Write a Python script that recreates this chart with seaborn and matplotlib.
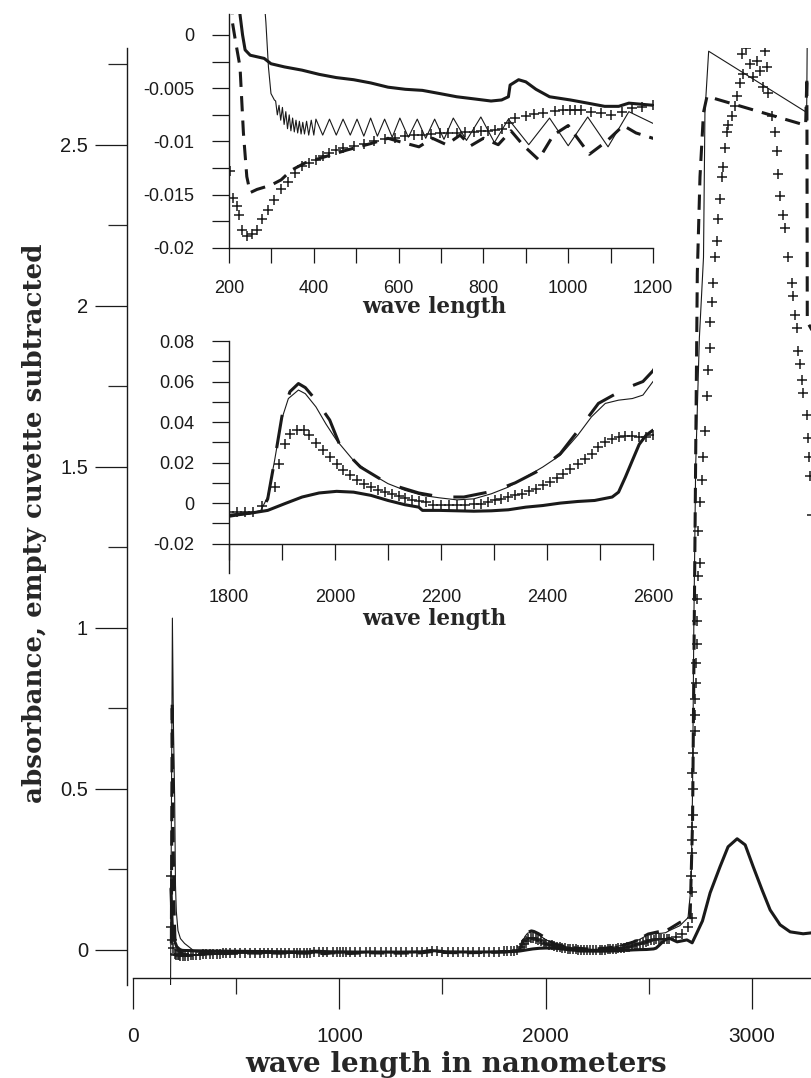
import matplotlib
matplotlib.use("Agg")
import matplotlib.pyplot as plt
import seaborn as sns

# ---------------- data (wavelength nm, absorbance) ----------------
# series A: bold solid line
a_wl = [184, 190, 200, 212, 222, 226, 232, 238, 250, 283, 299, 331, 372, 413, 453, 494, 534, 575, 616, 656,
        697, 737, 778, 818, 843, 859, 863, 883, 900, 924, 956, 1005, 1046, 1086, 1119, 1143, 1200, 1300, 1400,
        1440, 1470, 1520, 1600, 1700, 1800, 1840, 1873, 1905, 1938, 1970, 2003, 2035, 2068, 2100, 2132, 2158,
        2165, 2197, 2230, 2262, 2295, 2327, 2360, 2392, 2425, 2458, 2490, 2523, 2535, 2548, 2561, 2574, 2587,
        2600, 2637, 2685, 2710, 2733, 2760, 2797, 2845, 2884, 2928, 2967, 3006, 3049, 3088, 3136, 3185, 3248, 3290]
a_val = [0.19, 0.08, 0.03, 0.01, 0.004, 0.0019, 0.0, -0.0014, -0.0019, -0.0022, -0.0027, -0.0030, -0.0033,
         -0.0037, -0.0040, -0.0042, -0.0045, -0.0049, -0.0051, -0.0052, -0.0055, -0.0058, -0.0060, -0.0062,
         -0.0061, -0.0058, -0.0047, -0.0042, -0.0044, -0.0051, -0.0058, -0.0061, -0.0064, -0.0067, -0.0067,
         -0.0064, -0.0066, -0.0068, -0.0060, -0.002, -0.003, -0.006, -0.0065, -0.0065, -0.0060, -0.0050,
         -0.0036, -0.0003, 0.0030, 0.0050, 0.0058, 0.0054, 0.0038, 0.0013, -0.0008, -0.0020, -0.0036, -0.0036,
         -0.0038, -0.0040, -0.0038, -0.0033, -0.0020, -0.0012, 0.0000, 0.0008, 0.0013, 0.0030, 0.0054, 0.0129,
         0.0210, 0.0290, 0.0335, 0.0360, 0.025, 0.031, 0.022, 0.053, 0.09, 0.177, 0.258, 0.320, 0.345, 0.326,
         0.258, 0.186, 0.124, 0.078, 0.056, 0.050, 0.053]

# series B: thin solid line
b_wl = [182, 191, 196, 202, 206, 210, 218, 230, 250, 270, 287, 293, 299, 307, 310, 314, 318, 322, 326, 330,
        334, 338, 342, 346, 350, 354, 358, 362, 366, 370, 374, 378, 383, 388, 394, 400,
        405, 421, 437, 453, 469, 486, 502, 518, 534, 550, 567, 585, 603, 623, 644, 664,
        685, 707, 729, 760, 794, 826, 859, 907, 956, 1000, 1046, 1094, 1143, 1200, 1300, 1400, 1450, 1500,
        1600, 1700, 1800, 1840, 1860, 1873, 1886, 1899, 1912, 1931, 1944, 1964, 1983, 2003, 2035, 2068, 2100,
        2132, 2165, 2197, 2230, 2262, 2295, 2327, 2360, 2392, 2425, 2458, 2484, 2510, 2535, 2561, 2581, 2600,
        2650, 2690, 2705, 2712, 2718, 2727, 2745, 2765, 2772, 2790, 3265, 3268]
b_val = [-0.12, 1.03, 0.70, 0.47, 0.20, 0.12, 0.06, 0.035, 0.02, 0.01, 0.0012, -0.003, -0.0055, -0.0061,
         -0.0062, -0.0075, -0.0066, -0.0080, -0.0068, -0.0084, -0.0072, -0.0088, -0.0075, -0.0090, -0.0078,
         -0.0091, -0.0080, -0.0092, -0.0081, -0.0093, -0.0082, -0.0093, -0.0081, -0.0094, -0.0080, -0.0094,
         -0.0079,
         -0.0094, -0.0079, -0.0094, -0.0079, -0.0094, -0.0079, -0.0095, -0.0078, -0.0095, -0.0079, -0.0096,
         -0.0078, -0.0096, -0.0079, -0.0097, -0.0079, -0.0098, -0.0078, -0.0099, -0.0077, -0.0101, -0.0079,
         -0.0103, -0.0078, -0.0104, -0.0077, -0.0105, -0.0072, -0.0083, -0.009, -0.008, -0.004, -0.007, -0.008,
         -0.007, -0.006, -0.005, -0.0036, 0.003, 0.021, 0.041, 0.0516, 0.0558, 0.054, 0.0475, 0.039, 0.031,
         0.021, 0.0145, 0.0096, 0.0063, 0.0038, 0.0026, 0.0016, 0.0021, 0.0046, 0.0079, 0.0129, 0.0178, 0.0236,
         0.0335, 0.0426, 0.0492, 0.0508, 0.0516, 0.0533, 0.060, 0.075, 0.10, 0.2, 0.5, 1.0, 1.5, 1.9, 2.15,
         2.6, 2.79, 2.60, 2.85]

# series C: bold dashed line
c_wl = [186, 190, 194, 198, 203, 208, 215, 226, 234, 242, 250, 266, 299, 323, 347, 380, 429, 478, 534, 575,
        610, 648, 680, 713, 745, 770, 800, 835, 865, 895, 930, 965, 1000, 1050, 1090, 1130, 1160, 1200, 1300,
        1400, 1450, 1500, 1600, 1700, 1800, 1860, 1873, 1886, 1900, 1915, 1931, 1944, 1964, 1990, 2010, 2048,
        2100, 2158, 2200, 2243, 2300, 2340, 2380, 2425, 2464, 2497, 2548, 2581, 2600, 2650, 2700, 2712, 2720,
        2728, 2735, 2748, 2765, 2782, 3260, 3266, 3268, 3400]
c_val = [0.02, 0.77, 0.40, 0.15, 0.04, 0.0012, -0.0005, -0.003, -0.0092, -0.0133, -0.0148, -0.0145, -0.0141,
         -0.0136, -0.0127, -0.0120, -0.0114, -0.0108, -0.0102, -0.0097, -0.0101, -0.0105, -0.0097, -0.0103,
         -0.0094, -0.0104, -0.0097, -0.0103, -0.0090, -0.0104, -0.0117, -0.0094, -0.0085, -0.0112, -0.0100,
         -0.0085, -0.0092, -0.0097, -0.010, -0.009, -0.005, -0.008, -0.009, -0.008, -0.0065, -0.004, 0.002,
         0.021, 0.043, 0.055, 0.059, 0.057, 0.0508, 0.041, 0.028, 0.0178, 0.0096, 0.005, 0.003, 0.003, 0.006,
         0.010, 0.0154, 0.0244, 0.0376, 0.0492, 0.0566, 0.060, 0.0653, 0.085, 0.10, 0.40, 1.0, 1.6, 2.1, 2.4,
         2.6, 2.65, 2.56, 2.71, 1.95, 1.80]

# series D: "+" markers
d_wl = [183, 186, 190, 196, 202, 210, 218, 224, 230, 242, 254, 266, 279, 291, 307, 323, 340, 356, 372, 388,
        405, 421, 437, 453, 469, 494, 518, 543, 567, 592, 616, 636, 656, 676, 697, 717, 737, 757, 778, 795,
        810, 827, 843, 860, 875, 900, 920, 940, 970, 988, 1005, 1017, 1030, 1054, 1078, 1102, 1127, 1151, 1175,
        1200, 1225, 1250, 1275, 1300, 1325, 1350, 1375, 1400, 1425, 1450, 1475, 1500, 1525, 1550, 1575, 1600,
        1625, 1650, 1675, 1700, 1725, 1750, 1775,
        1800, 1815, 1830, 1845, 1863, 1886, 1895, 1905, 1915, 1928, 1941, 1951,
        1964, 1977, 1990, 2003, 2016, 2029, 2042, 2055, 2068, 2081, 2094, 2107, 2120, 2133, 2146, 2159, 2171,
        2185, 2200, 2215, 2230, 2245, 2262, 2275, 2288, 2301, 2314, 2327, 2340, 2353, 2366, 2379, 2392, 2405,
        2418, 2431, 2444, 2458, 2471, 2484, 2497, 2510, 2523, 2535, 2548, 2561, 2574, 2587, 2600, 2630, 2660,
        2690, 2710, 2708, 2703, 2708, 2708, 2708, 2712, 2712, 2708, 2712, 2722, 2722, 2722, 2727, 2727, 2732,
        2732, 2732, 2737, 2746, 2738, 2746, 2756, 2761, 2770, 2780, 2785, 2795, 2795, 2805, 2810, 2820, 2829,
        2834, 2844, 2854, 2858, 2868, 2878, 2883, 2902, 2917, 2927, 2941, 2956, 2951, 2970, 2990, 3005, 3015,
        3025, 3039, 3054, 3063, 3073, 3078, 3097, 3112, 3122, 3127, 3136, 3151, 3161, 3175, 3195, 3200, 3209,
        3219, 3224, 3233, 3243, 3248, 3267, 3272, 3277, 3282, 3290]
d_val = [0.23, 0.07, 0.03, 0.005, -0.0128, -0.0153, -0.0161, -0.0169, -0.0183, -0.0189, -0.0187, -0.0183,
         -0.0173, -0.0164, -0.0155, -0.0145, -0.0138, -0.0130, -0.0123, -0.0120, -0.0117, -0.0114, -0.0111,
         -0.0108, -0.0106, -0.0104, -0.0102, -0.0100, -0.0098, -0.0097, -0.0095, -0.0094, -0.0094, -0.0093,
         -0.0092, -0.0092, -0.0092, -0.0091, -0.0091, -0.0090, -0.0090, -0.0089, -0.0088, -0.0083, -0.0078,
         -0.0076, -0.0074, -0.0073, -0.0071, -0.0070, -0.0070, -0.0070, -0.0070, -0.0072,
         -0.0073, -0.0075, -0.0072, -0.0069, -0.0068, -0.0066, -0.0068, -0.007, -0.0075, -0.008, -0.008,
         -0.008, -0.0075, -0.007, -0.005, -0.003, -0.004, -0.006, -0.0065, -0.007, -0.007, -0.007, -0.0065,
         -0.006, -0.006, -0.006, -0.0055, -0.005, -0.005,
         -0.0045, -0.0045, -0.0045, -0.0045, -0.0012, 0.008, 0.0195,
         0.029, 0.0343, 0.0363, 0.0363, 0.0335, 0.0297, 0.0264, 0.0228, 0.0195, 0.0162, 0.0137, 0.0115, 0.0096,
         0.008, 0.0067, 0.0054, 0.0043, 0.0033, 0.0025, 0.0016, 0.001, 0.0005, -0.0008, -0.0008, -0.0008,
         -0.0008, -0.0008, -0.0006, -0.0003, 0.0005, 0.0013, 0.0021, 0.003, 0.0038, 0.0046, 0.0058, 0.0071,
         0.0087, 0.0104, 0.0125, 0.0145, 0.017, 0.0195, 0.0219, 0.0244, 0.0277, 0.0302, 0.0318, 0.0327, 0.033,
         0.033, 0.0327, 0.0325, 0.0335, 0.04, 0.05, 0.07, 0.10, 0.18, 0.23, 0.30, 0.34, 0.38, 0.42, 0.50, 0.55,
         0.61, 0.68, 0.73, 0.78, 0.83, 0.89, 0.95, 1.02, 1.09, 1.16, 1.20, 1.30, 1.39, 1.46, 1.53, 1.61, 1.72,
         1.80, 1.87, 1.95, 2.01, 2.07, 2.15, 2.20, 2.27, 2.33, 2.40, 2.43, 2.49, 2.54, 2.56, 2.59, 2.62, 2.65,
         2.69, 2.72, 2.78, 2.80, 2.75, 2.71, 2.82, 2.76, 2.73, 2.68, 2.79, 2.74, 2.66, 2.59, 2.54, 2.48, 2.41,
         2.34, 2.28, 2.24, 2.15, 2.07, 2.03, 1.97, 1.93, 1.86, 1.82, 1.77, 1.73, 1.66, 1.59, 1.53, 1.47, 1.35]

main_yticks = [0, 0.5, 1, 1.5, 2, 2.5]
main_yticklabels = ["0", "0.5", "1", "1.5", "2", "2.5"]
main_xticks = [0, 1000, 2000, 3000]
main_xticklabels = ["0", "1000", "2000", "3000"]
uv_xticks = [200, 400, 600, 800, 1000, 1200]
uv_yticks = [0, -0.005, -0.01, -0.015, -0.02]
uv_yticklabels = ["0", "-0.005", "-0.01", "-0.015", "-0.02"]
nir_xticks = [1800, 2000, 2200, 2400, 2600]
nir_yticks = [0.08, 0.06, 0.04, 0.02, 0, -0.02]
nir_yticklabels = ["0.08", "0.06", "0.04", "0.02", "0", "-0.02"]

# ---------------- styling ----------------
sns.set_theme(style="white")
plt.rcParams["font.family"] = ["Liberation Sans", "DejaVu Sans"]
plt.rcParams["axes.unicode_minus"] = False

W, H = 811, 1078
fig = plt.figure(figsize=(W / 100, H / 100), dpi=100)


def box(x0, y0, x1, y1):
    return [x0 / W, 1 - y1 / H, (x1 - x0) / W, (y1 - y0) / H]


def draw_series(ax, dash=(5, 3), ms=7):
    sns.lineplot(x=a_wl, y=a_val, ax=ax, sort=False, estimator=None, color="k", lw=2.2)
    sns.lineplot(x=b_wl, y=b_val, ax=ax, sort=False, estimator=None, color="k", lw=0.8)
    sns.lineplot(x=c_wl, y=c_val, ax=ax, sort=False, estimator=None, color="k", lw=2.2,
                 linestyle=(0, dash))
    sns.scatterplot(x=d_wl, y=d_val, ax=ax, marker="+", s=ms ** 2, color="k", linewidth=1.1)


def style_spines(ax):
    for s in ["top", "right"]:
        ax.spines[s].set_visible(False)
    for s in ["left", "bottom"]:
        ax.spines[s].set_color("k")
        ax.spines[s].set_linewidth(1.0)
    ax.set_facecolor("none")
    ax.set_xlabel("")
    ax.set_ylabel("")


# ---------------- main axes ----------------
ax = fig.add_axes(box(127, 48, 811, 985))
draw_series(ax, dash=(5, 3))
ax.set_xlim(-29, 3286)
ax.set_ylim(-0.109, 2.80)
style_spines(ax)
ax.spines["bottom"].set_position(("data", -0.088))
ax.spines["bottom"].set_bounds(0, 3286)
ax.set_yticks(main_yticks)
ax.set_yticklabels(main_yticklabels)
ax.set_yticks([0.25, 0.75, 1.25, 1.75, 2.25, 2.75], minor=True)
ax.set_xticks(main_xticks)
ax.set_xticklabels(main_xticklabels)
ax.set_xticks([500, 1500, 2500], minor=True)
ax.tick_params(axis="y", which="major", direction="out", left=True, length=23, width=0.9, pad=5,
               labelsize=14.5, colors="k")
ax.tick_params(axis="y", which="minor", direction="out", left=True, length=13.7, width=0.9)
ax.tick_params(axis="x", which="major", direction="out", bottom=True, length=22, width=0.9, pad=13,
               labelsize=15, colors="k")
ax.tick_params(axis="x", which="minor", direction="out", bottom=True, length=11.5, width=0.9)

fig.text(456 / W, 1 - 1064.5 / H, "wave length in nanometers", ha="center", va="center",
         family="DejaVu Serif", weight="bold", fontsize=20)
fig.text(35 / W, 1 - 523 / H, "absorbance, empty cuvette subtracted", ha="center", va="center",
         rotation=90, family="DejaVu Serif", weight="bold", fontsize=18.8)

# ---------------- inset 1: UV-VIS ----------------
ax1 = fig.add_axes(box(229, 14, 653, 248))
draw_series(ax1, dash=(5, 3))
ax1.set_xlim(200, 1200)
ax1.set_ylim(-0.02, 0.00197)
style_spines(ax1)
ax1.set_xticks(uv_xticks)
ax1.set_xticks([300, 500, 700, 900, 1100], minor=True)
ax1.set_yticks(uv_yticks)
ax1.set_yticklabels(uv_yticklabels)
ax1.set_yticks([-0.0025, -0.0075, -0.0125, -0.0175], minor=True)
ax1.tick_params(axis="both", which="both", direction="out", left=True, bottom=True, width=0.9,
                colors="k", labelsize=13)
ax1.tick_params(axis="y", which="both", length=12.2, pad=13)
ax1.tick_params(axis="x", which="both", length=11, pad=12)
fig.text(434 / W, 1 - 307 / H, "wave length", ha="center", va="center",
         family="DejaVu Serif", weight="bold", fontsize=15.5)

# ---------------- inset 2: NIR ----------------
ax2 = fig.add_axes(box(229, 341, 653, 573))
draw_series(ax2, dash=(11, 7))
ax2.set_xlim(1800, 2600)
ax2.set_ylim(-0.0345, 0.08)
style_spines(ax2)
ax2.spines["bottom"].set_position(("data", -0.02))
ax2.set_xticks(nir_xticks)
ax2.set_xticks([1900, 2100, 2300, 2500], minor=True)
ax2.set_yticks(nir_yticks)
ax2.set_yticklabels(nir_yticklabels)
ax2.set_yticks([0.07, 0.05, 0.03, 0.01, -0.01], minor=True)
ax2.tick_params(axis="both", which="both", direction="out", left=True, bottom=True, width=0.9,
                colors="k", labelsize=13)
ax2.tick_params(axis="y", which="both", length=12.2, pad=13)
ax2.tick_params(axis="x", which="both", length=11.5, pad=21.5)
fig.text(434 / W, 1 - 619 / H, "wave length", ha="center", va="center",
         family="DejaVu Serif", weight="bold", fontsize=15.5)

fig.savefig("out.png", dpi=100)
